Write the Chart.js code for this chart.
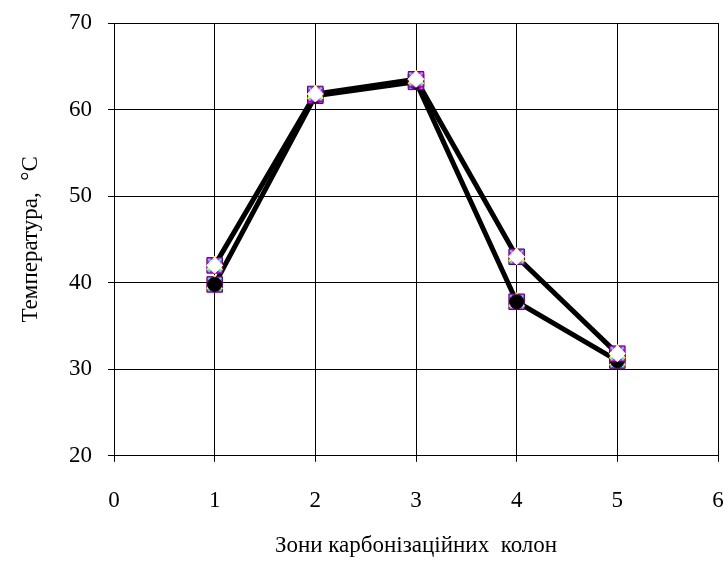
<!DOCTYPE html>
<html>
<head>
<meta charset="utf-8">
<script src="https://cdn.jsdelivr.net/npm/chart.js@4"></script>
<style>
  html, body { margin: 0; background: #fff; overflow: hidden; }
  #wrap { width: 724px; height: 561px; overflow: hidden; }
</style>
</head>
<body>
<div id="wrap"><canvas id="tempChart" width="730" height="561"></canvas></div>
<script>
const zones = [1, 2, 3, 4, 5];
const tempUpper = [42.0, 61.8, 63.5, 43.0, 31.8];
const tempLower = [39.8, 61.6, 63.2, 37.8, 31.0];
const yTicks = [20, 30, 40, 50, 60, 70];
const xTicks = [0, 1, 2, 3, 4, 5, 6];

function pts(values) {
    return zones.map((z, i) => ({ x: z, y: values[i] }));
}

// chart.js draws the first dataset on top, so the top marker goes first
function markerSet(values, top) {
    return [
        top,
        { data: pts(values), showLine: false, pointStyle: 'crossRot', pointRadius: 9,
          pointBorderColor: '#00ffff', pointBorderWidth: 2 },
        { data: pts(values), showLine: false, pointStyle: 'triangle', pointRadius: 9,
          pointBackgroundColor: '#ffff00', pointBorderColor: '#ffff00', pointBorderWidth: 1 },
        { data: pts(values), showLine: false, pointStyle: 'rect', pointRadius: 11,
          pointBackgroundColor: '#ff00ff', pointBorderColor: '#660066', pointBorderWidth: 1 }
    ];
}

const ctx = document.getElementById('tempChart').getContext('2d');

new Chart(ctx, {
    type: 'scatter',
    data: {
        datasets: [
            ...markerSet(tempUpper, { data: pts(tempUpper), showLine: false, pointStyle: 'rectRot',
                pointRadius: 8, pointBackgroundColor: '#fff', pointBorderColor: '#fff' }),
            ...markerSet(tempLower, { data: pts(tempLower), showLine: false, pointStyle: 'circle',
                pointRadius: 7, pointBackgroundColor: '#000', pointBorderColor: '#000' }),
            { data: pts(tempUpper), showLine: true, borderColor: '#000', borderWidth: 5, pointRadius: 0 },
            { data: pts(tempLower), showLine: true, borderColor: '#000', borderWidth: 5, pointRadius: 0 }
        ]
    },
    options: {
        responsive: false,
        animation: false,
        layout: { padding: { top: 23, right: 0, left: 13, bottom: 1 } },
        plugins: {
            legend: { display: false },
            tooltip: { enabled: false }
        },
        scales: {
            x: {
                type: 'linear',
                min: 0,
                max: 6,
                afterBuildTicks: axis => { axis.ticks = xTicks.map(v => ({ value: v })); },
                afterFit: axis => { axis.paddingLeft = 0; axis.paddingRight = 0; },
                grid: { color: '#000', lineWidth: 1, tickLength: 6, drawTicks: true },
                border: { color: '#000', width: 1 },
                ticks: { color: '#000', padding: 25, font: { family: 'Liberation Serif', size: 23 } },
                title: { display: true, text: 'Зони карбонізаційних  колон', color: '#000',
                         font: { family: 'Liberation Serif', size: 23 }, padding: { top: -7, bottom: 0 } }
            },
            y: {
                min: 20,
                max: 70,
                afterBuildTicks: axis => { axis.ticks = yTicks.map(v => ({ value: v })); },
                afterFit: axis => { axis.width = 101; axis.paddingTop = 0; axis.paddingBottom = 0; },
                grid: { color: '#000', lineWidth: 1, tickLength: 6, drawTicks: true },
                border: { color: '#000', width: 1 },
                ticks: { color: '#000', padding: 16, font: { family: 'Liberation Serif', size: 23 } },
                title: { display: true, text: 'Температура,  °C', color: '#000',
                         font: { family: 'Liberation Serif', size: 23 } }
            }
        }
    }
});
</script>
</body>
</html>
